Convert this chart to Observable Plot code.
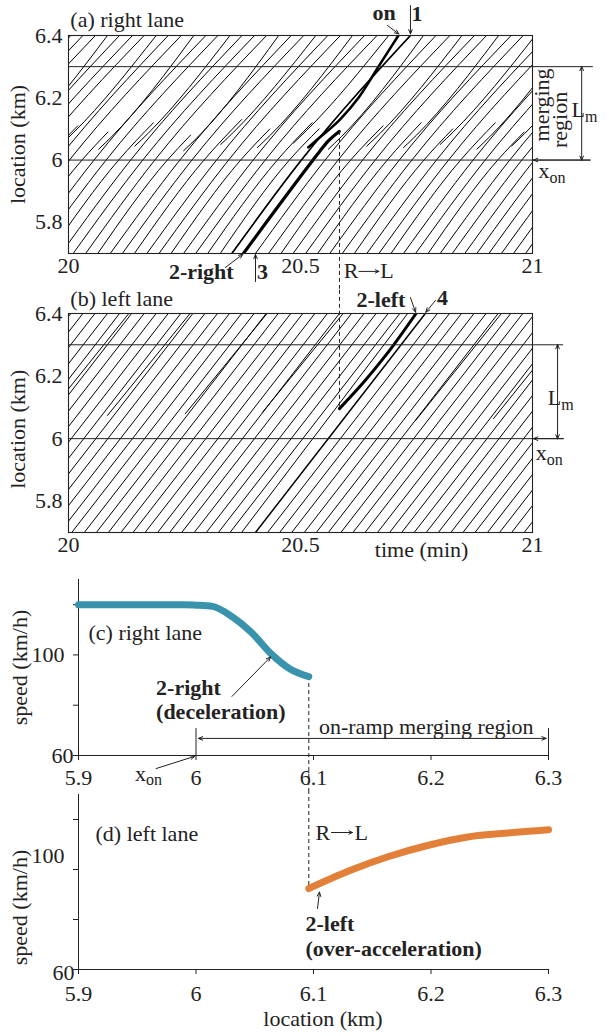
<!DOCTYPE html>
<html>
<head>
<meta charset="utf-8">
<script src="https://cdn.jsdelivr.net/npm/d3@7"></script>
<script src="https://cdn.jsdelivr.net/npm/@observablehq/plot@0.6"></script>
<style>
  html, body { margin: 0; padding: 0; background: #fff; }
  #figure { position: relative; width: 609px; height: 1036px; }
  #figure svg { position: absolute; left: 0; overflow: visible; }
  #figure svg text { font-family: "Liberation Serif", "Times New Roman", serif; }
</style>
</head>
<body>
<div id="figure"></div>
<script>
// ---------------- data ----------------
const timeTicks = [20, 20.5, 21];
const locTicks = [5.8, 6, 6.2, 6.4];
const locSpeedTicks = [5.9, 6, 6.1, 6.2, 6.3];
const speedTicks = [60, 80, 100, 120];
const xOn = 6.0;            // start of the on-ramp merging region (km)
const xMergeEnd = 6.3;      // end of the merging region (km)
const tLaneChange = 20.584; // time of the R→L change of vehicle 2 (min)
const xLaneChange = 6.096;  // location of the R→L change (km)

// right lane: time (min) at 5.7 km, at 6.0 km, and where each trajectory ends
const rT57 = [19.615,19.641,19.668,19.694,19.720,19.747,19.773,19.800,19.826,19.852,
  19.879,19.905,19.931,19.958,19.984,20.010,20.037,20.063,20.090,20.116,
  20.142,20.169,20.195,20.221,20.248,20.274,20.300,20.327,20.352,20.403,
  20.431,20.458,20.484,20.511,20.537,20.563,20.590,20.616,20.643,20.669,
  20.695,20.722,20.748,20.775,20.801,20.827,20.854,20.880,20.906,20.933,
  20.959,20.985];
const rT60 = [19.765,19.792,19.818,19.843,19.871,19.897,19.922,19.950,19.976,20.002,
  20.029,20.055,20.081,20.108,20.134,20.160,20.186,20.213,20.240,20.266,
  20.292,20.319,20.345,20.371,20.398,20.424,20.450,20.476,20.502,20.553,
  20.581,20.608,20.634,20.661,20.687,20.713,20.740,20.766,20.793,20.819,
  20.845,20.872,20.898,20.925,20.951,20.977,21.004,21.030,21.056,21.083,
  21.109,21.135];
const rEndT = [20.005,20.031,20.058,19.905,20.110,20.138,20.163,20.020,20.215,20.243,
  20.085,20.296,20.322,20.183,20.374,20.401,20.427,20.263,20.480,20.507,
  20.373,20.559,20.586,20.434,20.638,20.665,20.525,20.540,20.737,20.792,
  20.822,20.678,20.875,20.901,20.760,20.954,20.980,20.828,21.033,21.060,
  20.920,21.112,21.138,20.982,21.191,21.218,21.244,21.270,21.297,21.323,
  21.350,21.376];
const rEndX = [6.4,6.4,6.4,6.10,6.4,6.4,6.4,6.11,6.4,6.4,
  6.09,6.4,6.4,6.12,6.4,6.4,6.4,6.08,6.4,6.4,
  6.13,6.4,6.4,6.10,6.4,6.4,6.12,6.10,6.4,6.4,
  6.4,6.11,6.4,6.4,6.12,6.4,6.4,6.10,6.4,6.4,
  6.12,6.4,6.4,6.09,6.4,6.4,6.4,6.4,6.4,6.4,
  6.4,6.4];
const veh1Index = 28;

// on-ramp vehicles joining the right lane: join point, bend point, time at 6.4 km
const rampT0 = [19.879,19.984,20.065,20.143,20.248,20.328,20.407,20.485,20.560,20.643,20.722,20.801,20.880,20.955];
const rampX0 = [6.04,6.05,6.035,6.045,6.03,6.05,6.04,6.055,6.035,6.045,6.04,6.05,6.035,6.045];
const rampTm = [19.907,20.012,20.093,20.171,20.276,20.356,20.435,20.513,20.588,20.671,20.750,20.829,20.908,20.983];
const rampXm = [6.08,6.09,6.075,6.085,6.07,6.09,6.08,6.095,6.075,6.085,6.08,6.09,6.075,6.085];
const rampT64 = [20.084,20.189,20.270,20.348,20.453,20.533,20.612,20.690,20.765,20.848,20.927,21.006,21.085,21.160];

// left lane: time at 5.7 km and at 6.4 km
const leftT57 = [19.639,19.665,19.691,19.718,19.744,19.770,19.797,19.823,19.849,19.876,
  19.902,19.928,19.955,19.981,20.007,20.034,20.060,20.086,20.113,20.139,
  20.165,20.192,20.218,20.244,20.271,20.297,20.323,20.348,20.373,20.429,
  20.455,20.481,20.508,20.534,20.560,20.587,20.613,20.639,20.666,20.692,
  20.718,20.745,20.771,20.797,20.824,20.850,20.876,20.903,20.929,20.955,
  20.982];
const leftT64 = [20.005,20.031,20.057,20.084,20.110,20.136,20.163,20.189,20.215,20.242,
  20.268,20.294,20.321,20.347,20.373,20.400,20.426,20.452,20.479,20.505,
  20.531,20.558,20.584,20.610,20.637,20.663,20.689,20.714,20.731,20.795,
  20.821,20.847,20.874,20.900,20.926,20.953,20.979,21.005,21.032,21.058,
  21.084,21.111,21.137,21.163,21.190,21.216,21.242,21.269,21.295,21.321,
  21.348];
// vehicles arriving in the left lane from the right lane
const ljT0 = [19.952,20.084,20.252,20.418,20.748,20.916];
const ljX0 = [6.070,6.074,6.080,6.084,6.058,6.064];
const ljT64 = [20.130,20.262,20.428,20.592,20.933,21.098];

// highlighted vehicles
const veh2RightT = [20.377,20.527,20.5425,20.559,20.5835];
const veh2RightX = [5.7,6.0,6.03,6.06,6.092];
const vehOnT = [20.517,20.545,20.585,20.625,20.668,20.711];
const vehOnX = [6.041,6.077,6.130,6.200,6.300,6.4];
const veh2LeftT = [20.584,20.636,20.675,20.701,20.749];
const veh2LeftX = [6.096,6.18,6.25,6.30,6.40];
const veh4T = [20.403,20.769];
const veh4X = [5.7,6.4];

// speed of vehicle 2 against location
const speedRightLoc = [5.9,5.95,5.99,6.0,6.014,6.031,6.047,6.064,6.080,6.096];
const speedRight = [120,120,120,119.8,119.3,115.1,109.0,100.4,94.4,91.4];
const speedLeftLoc = [6.096,6.131,6.164,6.197,6.230,6.263,6.300];
const speedLeft = [92.4,99.6,105.2,109.6,112.9,114.5,115.9];

// ---------------- helpers ----------------
const FONT = '"Liberation Serif", "Times New Roman", serif';
const INK = "#222";
const FS = 22;
const style = {fontFamily: FONT, fontSize: FS + "px", color: INK, background: "transparent", overflow: "visible"};
const fig = document.getElementById("figure");

function place(svg, top) { svg.style.top = top + "px"; fig.appendChild(svg); return svg; }
function rows(ts, xs, id) { return ts.map((t, i) => ({id, t, x: xs[i]})); }
function label(text, x, y, o = {}) {
  return Plot.text([text], {x, y, text: d => d, fill: INK, fontSize: FS, fontFamily: FONT, textAnchor: "start", ...o});
}
function arrow(x1, y1, x2, y2, o = {}) {
  return Plot.arrow([0], {x1, y1, x2, y2, stroke: INK, strokeWidth: 1, headLength: 7, headAngle: 45, ...o});
}
// text with a subscript, placed through the plot's own scales
function subLabel(svg, main, sub, x, y) {
  const sx = svg.scale("x"), sy = svg.scale("y");
  const fx = d3.scaleLinear(sx.domain, sx.range), fy = d3.scaleLinear(sy.domain, sy.range);
  const t = d3.select(svg).append("text")
    .attr("x", fx(x)).attr("y", fy(y)).attr("dy", "0.32em")
    .attr("font-family", FONT).attr("font-size", FS).attr("fill", INK);
  t.append("tspan").text(main);
  t.append("tspan").attr("dy", "0.3em").attr("font-size", 16).text(sub);
}

const lineOpts = {x: "t", y: "x", z: "id", curve: "monotone-x", stroke: "#000", fill: "none", clip: true};

// ---------------- (a) right lane ----------------
const rightRows = rT57.flatMap((t, i) => [
  {id: i, t, x: 5.7}, {id: i, t: rT60[i], x: 6.0}, {id: i, t: rEndT[i], x: rEndX[i]}
]);
const rampRows = rampT0.flatMap((t, i) => [
  {id: i, t, x: rampX0[i]}, {id: i, t: rampTm[i], x: rampXm[i]}, {id: i, t: rampT64[i], x: 6.4}
]);
const veh1Rows = [{id: 0, t: rT57[veh1Index], x: 5.7}, {id: 0, t: rT60[veh1Index], x: 6.0}, {id: 0, t: rEndT[veh1Index], x: 6.4}];

const A = Plot.plot({
  width: 609, height: 290, marginLeft: 68, marginRight: 77, marginTop: 35, marginBottom: 37,
  style,
  x: {domain: [20, 21], ticks: timeTicks, tickSize: 0, tickPadding: 4, tickFormat: d => String(d), label: null},
  y: {domain: [5.7, 6.4], ticks: locTicks, tickSize: 0, tickPadding: 6, tickFormat: d => String(d), label: null},
  marks: [
    Plot.line(rightRows, {...lineOpts, strokeWidth: 1}),
    Plot.line(rampRows, {...lineOpts, strokeWidth: 1}),
    Plot.line(veh1Rows, {...lineOpts, strokeWidth: 1.7}),
    Plot.line(rows(vehOnT, vehOnX, 0), {...lineOpts, strokeWidth: 2.6}),
    Plot.line(rows(veh2RightT, veh2RightX, 0), {...lineOpts, strokeWidth: 3.2}),
    Plot.frame({stroke: INK, strokeWidth: 1.1}),
    Plot.ruleY([xMergeEnd], {x1: 20, x2: 21.131, stroke: INK, strokeWidth: 1}),
    Plot.ruleY([xOn], {x1: 20, x2: 21.125, stroke: INK, strokeWidth: 1}),
    Plot.ruleX([tLaneChange], {y1: 6.092, y2: 5.585, stroke: INK, strokeWidth: 1, strokeDasharray: "4,3"}),
    arrow(21.106, 6.15, 21.106, 6.301),
    arrow(21.106, 6.15, 21.106, 5.999),
    arrow(21.125, 6.0, 21.002, 6.0),
    label("merging", 21.0205, 6.177, {rotate: -90, textAnchor: "middle"}),
    label("region", 21.060, 6.129, {rotate: -90, textAnchor: "middle"}),
    label("(a) right lane", 20.004, 6.451),
    label("on", 20.680, 6.4735, {fontWeight: "bold", textAnchor: "middle"}),
    arrow(20.6875, 6.432, 20.712, 6.405),
    label("1", 20.751, 6.47, {fontWeight: "bold", textAnchor: "middle"}),
    arrow(20.737, 6.496, 20.737, 6.405),
    label("2-right", 20.356, 5.642, {fontWeight: "bold", textAnchor: "end"}),
    arrow(20.338, 5.655, 20.376, 5.698),
    label("3", 20.418, 5.642, {fontWeight: "bold", textAnchor: "middle"}),
    arrow(20.403, 5.61, 20.403, 5.697),
    // R→L marker under the lane-change time
    label("R", 20.593, 5.6425),
    arrow(20.626, 5.6425, 20.669, 5.6425, {headLength: 6, headAngle: 50}),
    label("L", 20.672, 5.6425),
    label("location (km)", 20, 6.05, {rotate: -90, textAnchor: "middle", dx: -50.5})
  ]
});
place(A, 0);
subLabel(A, "L", "m", 21.113, 6.16);
subLabel(A, "x", "on", 21.043, 5.962);

// ---------------- (b) left lane ----------------
const leftRows = leftT57.flatMap((t, i) => [{id: i, t, x: 5.7}, {id: i, t: leftT64[i], x: 6.4}]);
const joinRows = ljT0.flatMap((t, i) => [{id: i, t, x: ljX0[i]}, {id: i, t: ljT64[i], x: 6.4}]);

const B = Plot.plot({
  width: 609, height: 275, marginLeft: 68, marginRight: 77, marginTop: 23, marginBottom: 33,
  style,
  x: {domain: [20, 21], ticks: timeTicks, tickSize: 0, tickPadding: 4, tickFormat: d => String(d), label: null},
  y: {domain: [5.7, 6.4], ticks: locTicks, tickSize: 0, tickPadding: 6, tickFormat: d => String(d), label: null},
  marks: [
    Plot.line(leftRows, {...lineOpts, strokeWidth: 1}),
    Plot.line(joinRows, {...lineOpts, strokeWidth: 1}),
    Plot.line(rows(veh4T, veh4X, 0), {...lineOpts, strokeWidth: 1.5}),
    Plot.line(rows(veh2LeftT, veh2LeftX, 0), {...lineOpts, strokeWidth: 3}),
    Plot.frame({stroke: INK, strokeWidth: 1.1}),
    Plot.ruleY([xMergeEnd, xOn], {x1: 20, x2: 21.067, stroke: INK, strokeWidth: 1}),
    Plot.ruleX([tLaneChange], {y1: 6.474, y2: xLaneChange, stroke: INK, strokeWidth: 1, strokeDasharray: "4,3"}),
    arrow(21.054, 6.15, 21.054, 6.301),
    arrow(21.054, 6.15, 21.054, 5.999),
    arrow(21.067, 6.0, 21.002, 6.0),
    label("(b) left lane", 20.004, 6.448),
    label("2-left", 20.726, 6.442, {fontWeight: "bold", textAnchor: "end"}),
    arrow(20.737, 6.451, 20.748, 6.404),
    label("4", 20.806, 6.451, {fontWeight: "bold", textAnchor: "middle"}),
    arrow(20.791, 6.442, 20.770, 6.404),
    label("time (min)", 20.761, 5.7, {textAnchor: "middle", dy: 17}),
    label("location (km)", 20, 6.03, {rotate: -90, textAnchor: "middle", dx: -50.5})
  ]
});
place(B, 290);
subLabel(B, "L", "m", 21.062, 6.128);
subLabel(B, "x", "on", 21.037, 5.953);

// ---------------- (c) right-lane speed ----------------
const speedAxes = (tickPadding) => ({
  x: {domain: [5.9, 6.3], ticks: locSpeedTicks, tickSize: 5, tickPadding, tickFormat: d => String(d), line: true, label: null},
  y: {domain: [60, 130], ticks: speedTicks, tickSize: 5, tickFormat: () => "", line: true, label: null}
});

const C = Plot.plot({
  width: 609, height: 225, marginLeft: 78, marginRight: 61, marginTop: 14, marginBottom: 35,
  style,
  ...speedAxes(9),
  marks: [
    Plot.ruleX([xLaneChange], {y1: 91.4, y2: 46, stroke: INK, strokeWidth: 1, strokeDasharray: "4,3"}),
    Plot.ruleX([xOn, xMergeEnd], {y1: 60, y2: 70.7, stroke: INK, strokeWidth: 1}),
    arrow(6.15, 66.8, 6.002, 66.8),
    arrow(6.15, 66.8, 6.298, 66.8),
    Plot.line(speedRightLoc.map((x, i) => ({x, v: speedRight[i]})), {x: "x", y: "v", curve: "monotone-x", stroke: "#3a93ad", strokeWidth: 7, strokeLinecap: "round"}),
    label("100", 5.9, 100, {textAnchor: "end", dx: -14}),
    label("60", 5.9, 60, {textAnchor: "end", dx: -5}),
    label("(c) right lane", 5.9085, 108.9),
    label("2-right", 5.966, 86.8, {fontWeight: "bold"}),
    label("(deceleration)", 5.966, 77.3, {fontWeight: "bold"}),
    arrow(6.0306, 83.5, 6.0635, 99.2),
    label("on-ramp merging region", 6.196, 71.5, {textAnchor: "middle"}),
    arrow(5.966, 54.8, 5.999, 59.7),
    label("speed (km/h)", 5.9, 95, {rotate: -90, textAnchor: "middle", dx: -58.5})
  ]
});
place(C, 565);
subLabel(C, "x", "on", 5.96, 52.6);

// ---------------- (d) left-lane speed ----------------
const D = Plot.plot({
  width: 609, height: 246, marginLeft: 78, marginRight: 61, marginTop: 4, marginBottom: 67,
  style,
  ...speedAxes(11),
  marks: [
    Plot.ruleX([xLaneChange], {y1: 131.6, y2: 92.4, stroke: INK, strokeWidth: 1, strokeDasharray: "4,3"}),
    Plot.line(speedLeftLoc.map((x, i) => ({x, v: speedLeft[i]})), {x: "x", y: "v", curve: "monotone-x", stroke: "#e2803a", strokeWidth: 7, strokeLinecap: "round"}),
    label("100", 5.9, 100, {textAnchor: "end", dx: -14, dy: -14}),
    label("60", 5.9, 60, {textAnchor: "end", dx: -4, dy: 3}),
    label("(d) left lane", 5.9145, 114.4),
    // R→L marker next to the lane-change location
    label("R", 6.1017, 114.8),
    arrow(6.1153, 114.8, 6.1332, 114.8, {headLength: 6, headAngle: 50}),
    label("L", 6.1349, 114.8),
    label("2-left", 6.0932, 78.4, {fontWeight: "bold"}),
    label("(over-acceleration)", 6.0932, 68.4, {fontWeight: "bold"}),
    arrow(6.1034, 84.4, 6.1051, 91.0),
    label("location (km)", 6.108, 60, {textAnchor: "middle", dy: 49}),
    label("speed (km/h)", 5.9, 84.8, {rotate: -90, textAnchor: "middle", dx: -58.5})
  ]
});
place(D, 790);
</script>
</body>
</html>
